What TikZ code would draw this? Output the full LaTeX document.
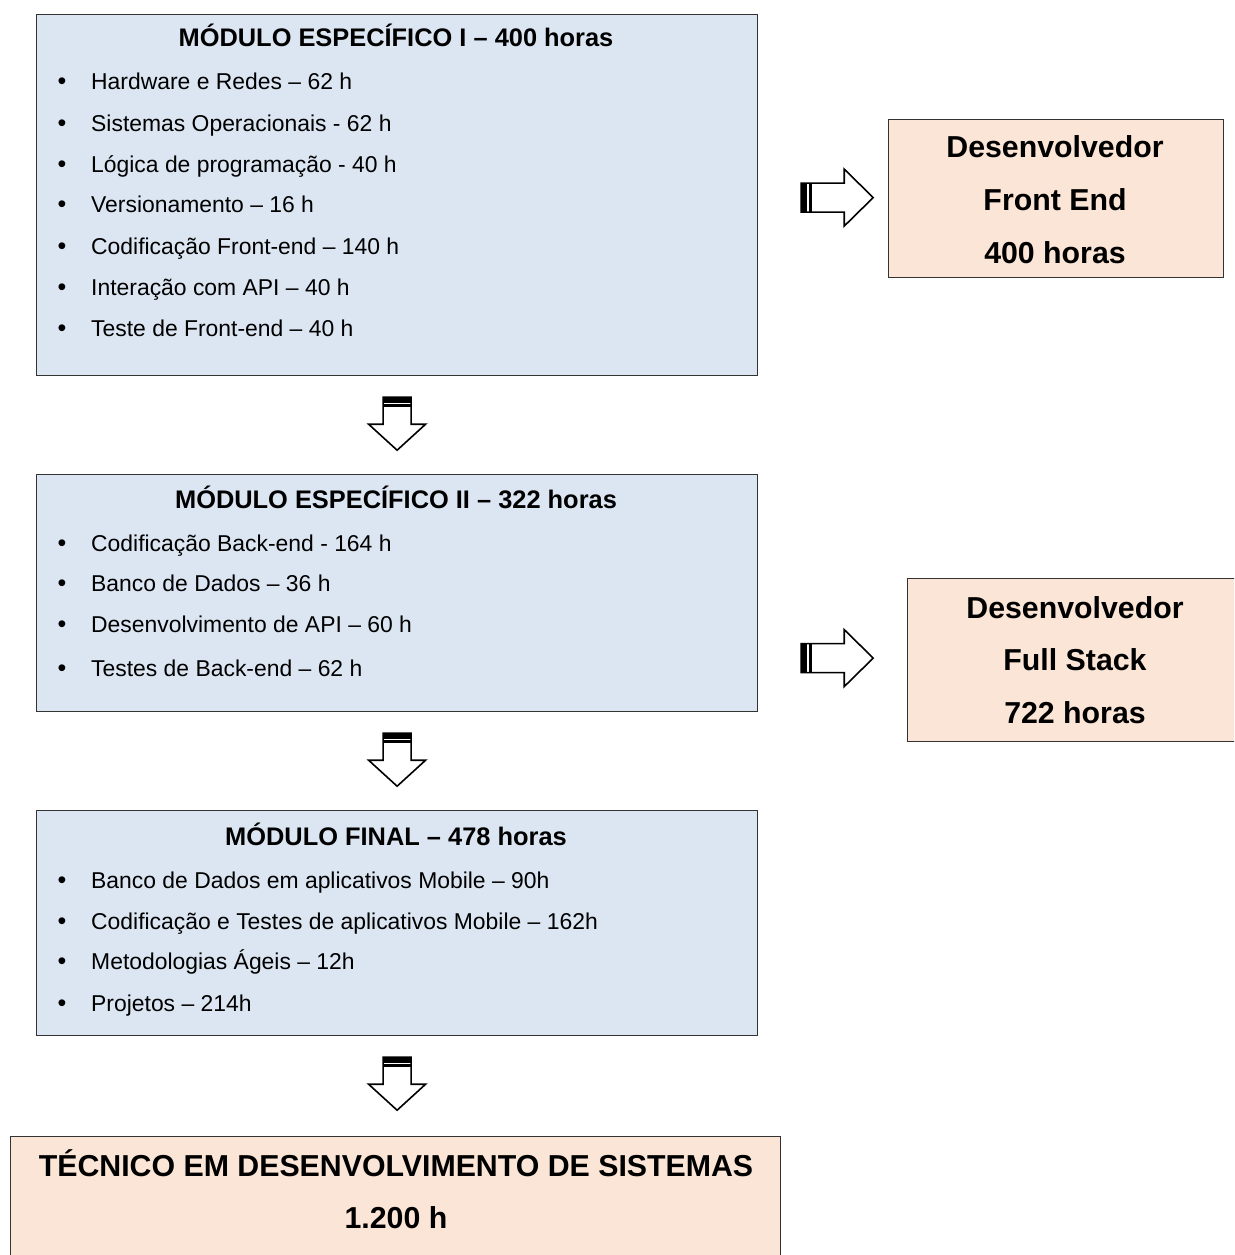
\documentclass[tikz,border=0pt]{standalone}
\usepackage{fontspec}
\setmainfont{Liberation Sans}
\usetikzlibrary{calc}
\definecolor{boxblue}{HTML}{DCE6F2}
\definecolor{boxpeach}{HTML}{FBE5D6}
\definecolor{edge}{HTML}{333333}
\tikzset{
  box/.style={draw=edge, line width=1.2pt, inner sep=0pt, anchor=north west},
  item/.style={anchor=base west, inner sep=0pt, font=\fontsize{22.9}{27}\selectfont},
  bul/.style={anchor=base, inner sep=0pt, font=\fontsize{25}{27}\selectfont},
  ttl/.style={anchor=base, inner sep=0pt, font=\bfseries\fontsize{25.4}{30}\selectfont},
  big/.style={anchor=base, inner sep=0pt, font=\bfseries\fontsize{30.3}{36}\selectfont},
  blockarrow/.style={draw=black, line width=1.6pt, fill=white, line join=miter},
}
\newcommand{\downarrowblock}{%
  \path[blockarrow] (-14,0) -- (14,0) -- (14,27) -- (28.5,27) -- (0,53) -- (-28.5,27) -- (-14,27) -- cycle;
  \fill[black] (-14,0) rectangle (14,5.5);
  \fill[black] (-14,7) rectangle (14,10);
}
\newcommand{\rightarrowblock}{%
  \path[blockarrow] (0,-14.5) -- (43,-14.5) -- (43,-28.5) -- (72,0) -- (43,28.5) -- (43,14.5) -- (0,14.5) -- cycle;
  \fill[black] (0,-14.5) rectangle (6,14.5);
  \fill[black] (8,-14.5) rectangle (11,14.5);
}
\begin{document}
\begin{tikzpicture}[x=1pt,y=-1pt]
\clip (0,0) rectangle (1234,1255);
\fill[white] (0,0) rectangle (1234,1255);
% boxes
\node[box, fill=boxblue, minimum width=721pt, minimum height=361pt] (m1) at (36,14) {};
\node[box, fill=boxblue, minimum width=721pt, minimum height=237pt] (m2) at (36,474) {};
\node[box, fill=boxblue, minimum width=721pt, minimum height=225pt] (m3) at (36,810) {};
\node[box, fill=boxpeach, minimum width=770pt, minimum height=150pt] (fin) at (10,1136) {};
\node[box, fill=boxpeach, minimum width=335pt, minimum height=158pt] (r1) at (888,119) {};
\node[box, fill=boxpeach, minimum width=345pt, minimum height=163pt] (r2) at (907,578) {};
% titles
\node[ttl] (t1) at (396,47) {MÓDULO ESPECÍFICO I – 400 horas};
\node[ttl] (t2) at (396,508) {MÓDULO ESPECÍFICO II – 322 horas};
\node[ttl] (t3) at (396,845) {MÓDULO FINAL – 478 horas};
% items
\foreach \yy/\tx [count=\i] in {81/Hardware e Redes – 62 h, 123/Sistemas Operacionais - 62 h, 164/Lógica de programação - 40 h, 204/Versionamento – 16 h, 246/Codificação Front-end – 140 h, 287/Interação com API – 40 h, 328/Teste de Front-end – 40 h}{
  \node[bul] (ba\i) at (62,\yy+8.2) {•};
  \node[item] (ia\i) at (91,\yy+8.2) {\tx};
}
\foreach \yy/\tx [count=\i] in {543/Codificação Back-end - 164 h, 583/Banco de Dados – 36 h, 624/Desenvolvimento de API – 60 h, 668/Testes de Back-end – 62 h}{
  \node[bul] (bb\i) at (62,\yy+8.2) {•};
  \node[item] (ib\i) at (91,\yy+8.2) {\tx};
}
\foreach \yy/\tx [count=\i] in {880/Banco de Dados em aplicativos Mobile – 90h, 921/Codificação e Testes de aplicativos Mobile – 162h, 961/Metodologias Ágeis – 12h, 1003/Projetos – 214h}{
  \node[bul] (bc\i) at (62,\yy+8.2) {•};
  \node[item] (ic\i) at (91,\yy+8.2) {\tx};
}
% right boxes text
\node[big] (r1a) at (1055,157) {Desenvolvedor};
\node[big] (r1b) at (1055,210) {Front End};
\node[big] (r1c) at (1055,263) {400 horas};
\node[big] (r2a) at (1075,618) {Desenvolvedor};
\node[big] (r2b) at (1075,670) {Full Stack};
\node[big] (r2c) at (1075,723) {722 horas};
% final box text
\node[big] (fa) at (396,1176) {TÉCNICO EM DESENVOLVIMENTO DE SISTEMAS};
\node[big] (fb) at (396,1228) {1.200 h};
% arrows
\begin{scope}[shift={($(m1.south)+(0,-21pt)$)}]\downarrowblock\end{scope}
\begin{scope}[shift={($(m2.south)+(0,-21pt)$)}]\downarrowblock\end{scope}
\begin{scope}[shift={($(m3.south)+(0,-21pt)$)}]\downarrowblock\end{scope}
\begin{scope}[shift={($(m1.east|-r1.west)+(43pt,1pt)$)}]\rightarrowblock\end{scope}
\begin{scope}[shift={($(m2.east|-r2.west)+(43pt,2pt)$)}]\rightarrowblock\end{scope}
\end{tikzpicture}
\end{document}
